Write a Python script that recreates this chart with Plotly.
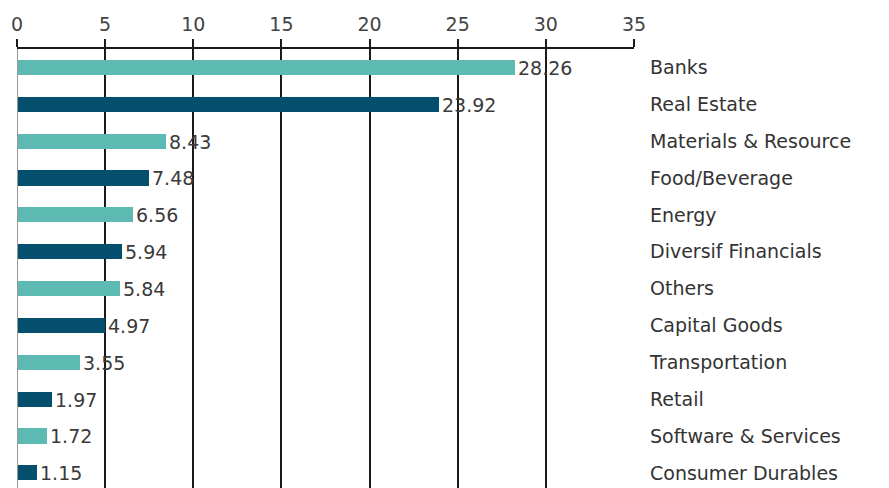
import plotly.graph_objects as go

categories = ["Banks", "Real Estate", "Materials & Resource", "Food/Beverage", "Energy",
              "Diversif Financials", "Others", "Capital Goods", "Transportation", "Retail",
              "Software & Services", "Consumer Durables"]
values = [28.26, 23.92, 8.43, 7.48, 6.56, 5.94, 5.84, 4.97, 3.55, 1.97, 1.72, 1.15]
x_ticks = [0, 5, 10, 15, 20, 25, 30, 35]

TEAL = "#5DBAB2"
NAVY = "#044E6E"
FONT = "DejaVu Sans"

idx = list(range(len(categories)))
colors = [TEAL if i % 2 == 0 else NAVY for i in idx]

fig = go.Figure(go.Bar(
    x=values, y=idx, orientation="h",
    marker=dict(color=colors, line=dict(width=0)),
    width=0.41,
    text=[f"{v:.2f}" for v in values],
    textposition="outside",
    constraintext="none",
    textfont=dict(family=FONT, size=19, color="#3a3a3a"),
    cliponaxis=False,
))

fig.update_layout(
    width=881, height=480,
    margin=dict(l=8.5, r=255, t=41, b=0, autoexpand=False),
    paper_bgcolor="white", plot_bgcolor="white",
    showlegend=False,
    bargap=0,
    xaxis=dict(
        side="top", range=[0, 35], tickvals=x_ticks,
        showgrid=True, gridcolor="#1a1a1a", gridwidth=1.5,
        showline=True, linecolor="#1a1a1a", linewidth=1.5,
        ticks="outside", ticklen=8, tickcolor="#1a1a1a", tickwidth=1.5,
        tickfont=dict(family=FONT, size=19, color="#444444"),
        zeroline=False, fixedrange=True, automargin=False,
        ticklabelstandoff=1,
    ),
    yaxis=dict(
        side="right", range=[11.41, -0.5],
        tickvals=idx, ticktext=categories,
        showgrid=False, zeroline=False, showline=False,
        ticks="", ticklabelstandoff=15,
        tickfont=dict(family=FONT, size=19, color="#333333"),
        fixedrange=True, automargin=False,
    ),
)

# grey zero line at left of bars
fig.add_shape(type="line", xref="x", yref="paper", x0=0, x1=0, y0=0, y1=1,
              line=dict(color="#999999", width=2), layer="above")

fig.write_html("out.html")
